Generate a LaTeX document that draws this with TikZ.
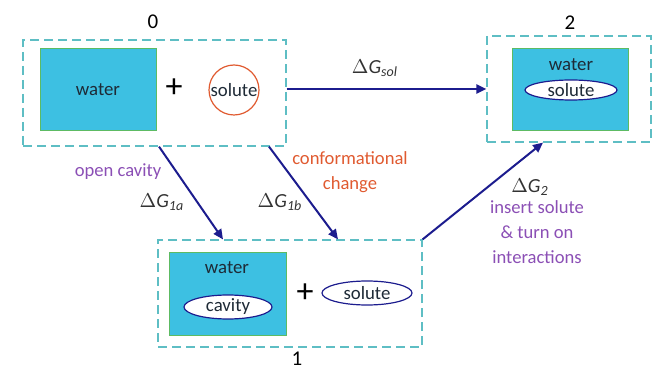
\documentclass[tikz,border=0pt]{standalone}
\usepackage{fontspec}
\setmainfont{Carlito}
\usetikzlibrary{arrows.meta, shapes.geometric}
\definecolor{ink}{HTML}{1E2A36}
\definecolor{dash}{HTML}{5EBEC4}
\definecolor{waterfill}{HTML}{3DC0E2}
\definecolor{waterline}{HTML}{5DBB63}
\definecolor{navy}{HTML}{1C1C8E}
\definecolor{orng}{HTML}{E05A30}
\definecolor{purp}{HTML}{8B4FB5}
\definecolor{gry}{HTML}{333333}
\tikzset{
  state/.style={draw=dash, dash pattern=on 4.5pt off 2.5pt, line width=0.6pt,
                minimum width=#1, minimum height=53pt, inner sep=0pt},
  water/.style={draw=waterline, fill=waterfill, line width=0.5pt, inner sep=0pt,
                minimum width=58pt, minimum height=41pt},
  lbl/.style={font=\fontsize{9.4}{11}\selectfont, text=ink, inner sep=0pt},
  blob/.style={ellipse, draw=navy, fill=white, line width=0.6pt, inner sep=0pt,
               font=\fontsize{9.4}{11}\selectfont, text=ink},
  num/.style={font=\fontsize{10.5}{12}\selectfont, text=black},
  plus/.style={font=\fontsize{17}{17}\selectfont, text=black, inner sep=0pt},
  dg/.style={font=\fontsize{10}{12}\selectfont, text=gry},
  note/.style={font=\fontsize{9.3}{11}\selectfont, align=center, inner sep=0pt},
  fl/.style={-{Triangle[length=5pt, width=4.5pt]}, line width=1pt, draw=navy},
}
\newcommand{\dG}[1]{$\Delta$\textit{G}\textsubscript{\textit{#1}}}
\begin{document}
\begin{tikzpicture}[x=0.5pt, y=-0.5pt]
  \useasboundingbox (0,0) rectangle (667,368);
  % state 0
  \node[state=131.5pt] (s0) at (154.5,93) {};
  \node[water, lbl] (w0) at (98,90) {water};
  \node[plus] (p0) at (174,88) {+};
  \node[circle, draw=orng, line width=0.6pt, minimum size=25pt, inner sep=0pt,
        lbl] (u0) at (234,90) {solute};
  \node[num] (n0) at (153,22) {0};
  % state 2
  \node[state=82pt] (s2) at (569,89) {};
  \node[water] (w2) at (570,90) {};
  \node[lbl] (t2) at (571,65) {water};
  \node[blob, minimum width=46pt, minimum height=10pt] (u2) at (571,90) {solute};
  \node[num] (n2) at (570,23) {2};
  % state 1
  \node[state=132pt, minimum height=53.5pt] (s1) at (290,293.5) {};
  \node[water, minimum width=58.5pt, minimum height=41.5pt] (w1) at (227.5,293.5) {};
  \node[lbl] (t1) at (227,268) {water};
  \node[blob, minimum width=44pt, minimum height=12pt] (c1) at (228,307) {cavity};
  \node[plus] (p1) at (305,293) {+};
  \node[blob, minimum width=45pt, minimum height=12pt] (u1) at (367,293) {solute};
  \node[num] (n1) at (297,359) {1};
  % arrows
  \draw[fl] (s0.east |- s2.west) -- (s2.west);
  \draw[fl] ([xshift=2.25pt]s0.south) -- ([xshift=-33.5pt]s1.north);
  \draw[fl] ([xshift=57.25pt]s0.south) -- ([xshift=24pt]s1.north);
  \draw[fl] (s1.north east) -- ([xshift=-13pt]s2.south);
  % labels
  \node[dg] (gsol) at (375,68) {\dG{sol}};
  \node[note, text=purp] (oc) at (118,172) {open cavity};
  \node[dg] (g1a) at (162,202) {\dG{1a}};
  \node[dg] (g1b) at (280,202) {\dG{1b}};
  \node[note, text=orng] (cc) at (350,172) {conformational\\[1.5pt]change};
  \node[dg] (g2) at (530,187) {\dG{2}};
  \node[note, text=purp] (ins) at (537,232) {insert solute\\[1.5pt]\& turn on\\[1.5pt]interactions};
\end{tikzpicture}
\end{document}
